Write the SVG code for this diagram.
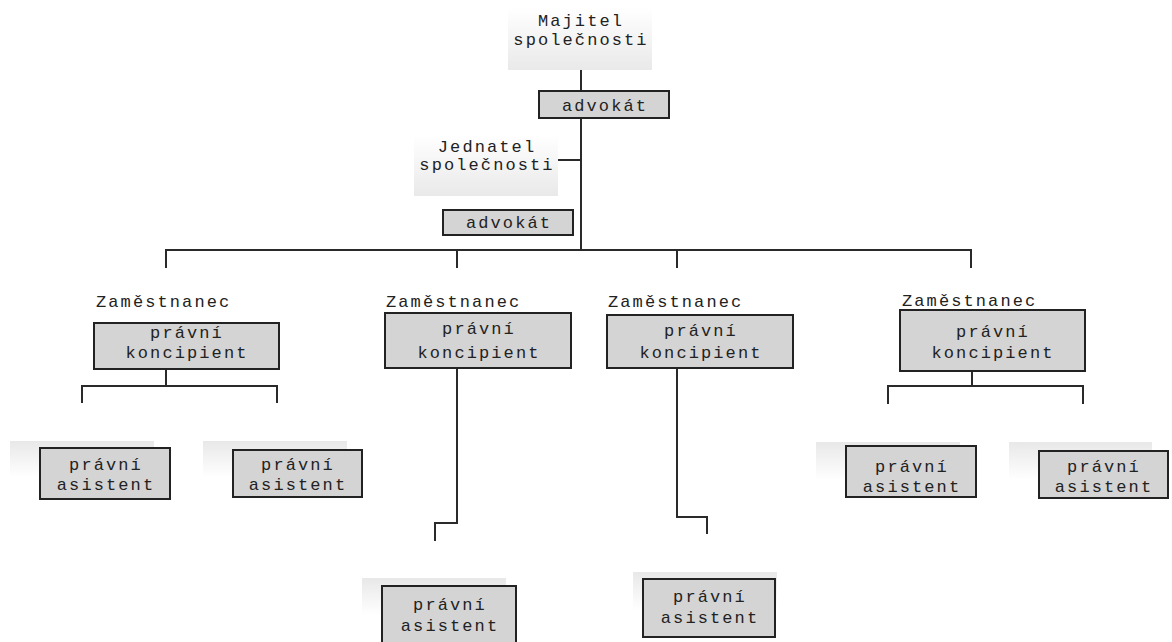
<svg xmlns="http://www.w3.org/2000/svg" width="1172" height="642" viewBox="0 0 1172 642">
<style>
.t{font-family:"Liberation Mono","Courier New",monospace;font-size:17px;letter-spacing:2.1px;fill:#222;}
.c{text-anchor:middle;}
.box{fill:#d4d4d4;stroke:#222;stroke-width:2;}
.ln{fill:none;stroke:#2a2a2a;stroke-width:2;}
</style>
<defs>
<linearGradient id="gDown" x1="0" y1="0" x2="0" y2="1"><stop offset="0" stop-color="#ffffff"/><stop offset="1" stop-color="#e9e9e9"/></linearGradient>
<linearGradient id="gUp" x1="0" y1="0" x2="0" y2="1"><stop offset="0" stop-color="#e8e8e8"/><stop offset="1" stop-color="#ffffff"/></linearGradient>
</defs>
<rect width="1172" height="642" fill="#ffffff"/>
<g id="connectors">
<path class="ln" d="M581 70V250M558 160H581M166 268V250H971V268M457 250V268M677 250V268"/>
<path class="ln" d="M166 369V386M82 403V386H277V403"/>
<path class="ln" d="M972 371V386M888 404V386H1083V404"/>
<path class="ln" d="M457 368V523H435V541"/>
<path class="ln" d="M677 368V517H707V534"/>
</g>
<g id="majitel">
<rect x="508" y="8" width="144" height="62" fill="url(#gDown)"/>
<text class="t c" x="581" y="26">Majitel</text>
<text class="t c" x="581" y="45">společnosti</text>
</g>
<g id="advokat1">
<rect class="box" x="539" y="91" width="130" height="27"/>
<text class="t c" x="605" y="111">advokát</text>
</g>
<g id="jednatel">
<rect x="414" y="135" width="144" height="61" fill="url(#gDown)"/>
<text class="t c" x="487" y="152">Jednatel</text>
<text class="t c" x="487" y="170">společnosti</text>
</g>
<g id="advokat2">
<rect class="box" x="443" y="210" width="130" height="25"/>
<text class="t c" x="509" y="228">advokát</text>
</g>
<g id="koncipient1">
<text class="t" x="96" y="307">Zaměstnanec</text>
<rect class="box" x="94" y="323" width="185" height="46"/>
<text class="t c" x="187" y="338">právní</text>
<text class="t c" x="187" y="358">koncipient</text>
</g>
<g id="koncipient2">
<text class="t" x="386" y="307">Zaměstnanec</text>
<rect class="box" x="385" y="313" width="186" height="55"/>
<text class="t c" x="479" y="334">právní</text>
<text class="t c" x="479" y="358">koncipient</text>
</g>
<g id="koncipient3">
<text class="t" x="608" y="307">Zaměstnanec</text>
<rect class="box" x="607" y="315" width="186" height="53"/>
<text class="t c" x="701" y="336">právní</text>
<text class="t c" x="701" y="358">koncipient</text>
</g>
<g id="koncipient4">
<text class="t" x="902" y="306">Zaměstnanec</text>
<rect class="box" x="900" y="310" width="185" height="61"/>
<text class="t c" x="993" y="337">právní</text>
<text class="t c" x="993" y="358">koncipient</text>
</g>
<g id="asistent1">
<rect x="10" y="441" width="144" height="36" fill="url(#gUp)"/>
<rect class="box" x="40" y="448" width="130" height="51"/>
<text class="t c" x="106" y="470">právní</text>
<text class="t c" x="106" y="490">asistent</text>
</g>
<g id="asistent2">
<rect x="203" y="441" width="144" height="36" fill="url(#gUp)"/>
<rect class="box" x="233" y="450" width="129" height="47"/>
<text class="t c" x="298" y="470">právní</text>
<text class="t c" x="298" y="490">asistent</text>
</g>
<g id="asistent3">
<rect x="362" y="578" width="144" height="37" fill="url(#gUp)"/>
<rect class="box" x="382" y="586" width="134" height="62"/>
<text class="t c" x="450" y="610">právní</text>
<text class="t c" x="450" y="631">asistent</text>
</g>
<g id="asistent4">
<rect x="633" y="572" width="144" height="38" fill="url(#gUp)"/>
<rect class="box" x="643" y="579" width="132" height="58"/>
<text class="t c" x="710" y="602">právní</text>
<text class="t c" x="710" y="623">asistent</text>
</g>
<g id="asistent5">
<rect x="816" y="442" width="144" height="38" fill="url(#gUp)"/>
<rect class="box" x="846" y="446" width="130" height="51"/>
<text class="t c" x="912" y="472">právní</text>
<text class="t c" x="912" y="492">asistent</text>
</g>
<g id="asistent6">
<rect x="1009" y="442" width="143" height="38" fill="url(#gUp)"/>
<rect class="box" x="1039" y="451" width="129" height="47"/>
<text class="t c" x="1104" y="472">právní</text>
<text class="t c" x="1104" y="492">asistent</text>
</g>
</svg>
